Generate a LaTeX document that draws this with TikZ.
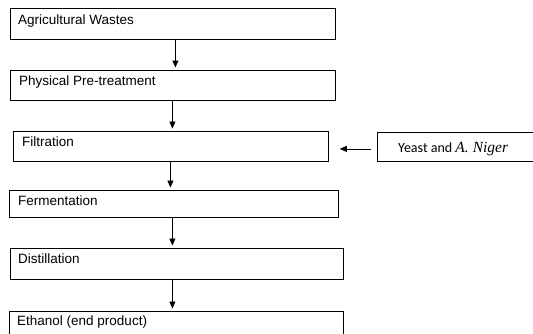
\documentclass[tikz,border=0pt]{standalone}
\usepackage{fontspec}
\setmainfont{Liberation Sans}
\newfontfamily\calib{Carlito}
\newfontfamily\serifit{Liberation Serif}
\usetikzlibrary{arrows.meta}
\begin{document}
\begin{tikzpicture}[x=1pt,y=-1pt,
  boxst/.style={draw=black,line width=0.8pt,inner sep=0pt},
  txt/.style={anchor=base west,inner sep=0pt,font=\fontsize{13.5}{15}\selectfont},
  arr/.style={draw=black,line width=0.8pt,-{Triangle[length=7pt,width=6pt]},shorten >=2.5pt,shorten <=0.5pt}]
\useasboundingbox (0,0) rectangle (533,333);
% boxes
\node[boxst,minimum width=325pt,minimum height=31pt,anchor=north west] (b1) at (10,8) {};
\node[boxst,minimum width=325pt,minimum height=30pt,anchor=north west] (b2) at (10,70) {};
\node[boxst,minimum width=315pt,minimum height=30pt,anchor=north west] (b3) at (13,131) {};
\node[boxst,minimum width=329pt,minimum height=27pt,anchor=north west] (b4) at (9,190) {};
\node[boxst,minimum width=333pt,minimum height=31pt,anchor=north west] (b5) at (10,248) {};
\node[boxst,minimum width=334pt,minimum height=34pt,anchor=north west] (b6) at (9,311) {};
\node[boxst,minimum width=170pt,minimum height=29pt,anchor=north west] (y) at (377,132) {};
% texts
\node[txt] (t1) at ([xshift=8pt,yshift=-16pt]b1.north west) {Agricultural Wastes};
\node[txt] (t2) at ([xshift=9pt,yshift=-15pt]b2.north west) {Physical Pre-treatment};
\node[txt] (t3) at ([xshift=9pt,yshift=-15pt]b3.north west) {Filtration};
\node[txt] (t4) at ([xshift=9pt,yshift=-15pt]b4.north west) {Fermentation};
\node[txt] (t5) at ([xshift=8pt,yshift=-15pt]b5.north west) {Distillation};
\node[txt] (t6) at ([xshift=8pt,yshift=-14pt]b6.north west) {Ethanol (end product)};
\node[anchor=base west,inner sep=0pt,font=\calib\fontsize{14}{16}\selectfont] (ty) at (398,152) {Yeast and {\serifit\itshape\fontsize{15.5}{17}\selectfont A.\hspace{4pt}Niger}};
% arrows
\draw[arr] ([xshift=2.5pt]b1.south) -- ([xshift=2.5pt]b1.south |- b2.north);
\draw[arr] ([xshift=-0.5pt]b2.south) -- ([xshift=-0.5pt]b2.south |- b3.north);
\draw[arr] ([xshift=-0.5pt]b3.south) -- ([xshift=-0.5pt]b3.south |- b4.north);
\draw[arr] ([xshift=-1.5pt]b4.south) -- ([xshift=-1.5pt]b4.south |- b5.north);
\draw[arr] ([xshift=-4.5pt]b5.south) -- ([xshift=-4.5pt]b5.south |- b6.north);
\draw[arr,shorten <=6pt,shorten >=11pt] ([yshift=-2pt]y.west) -- ([yshift=-2pt]y.west -| b3.east);
\end{tikzpicture}
\end{document}
